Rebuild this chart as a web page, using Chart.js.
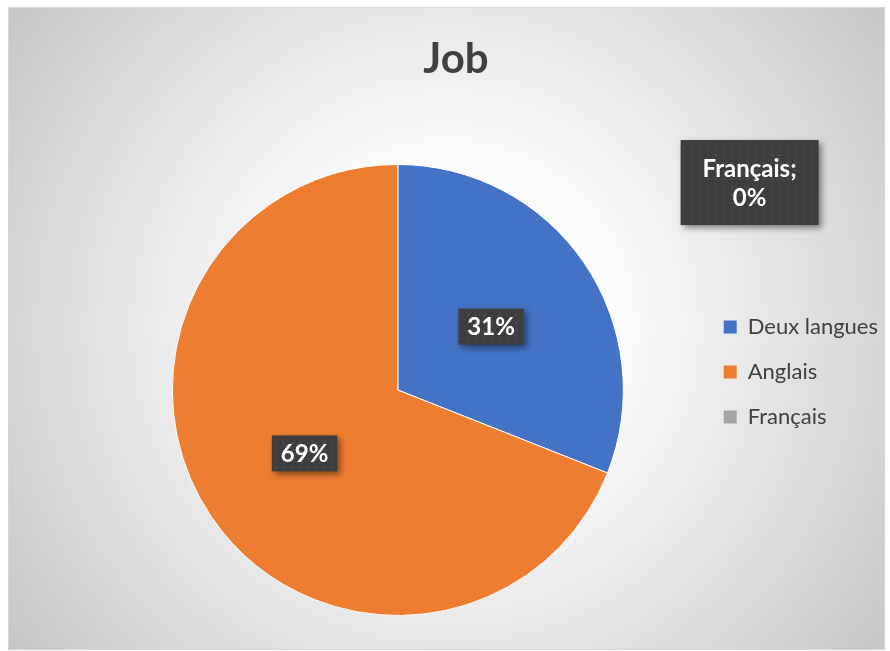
<!DOCTYPE html>
<html lang="fr">
<head>
<meta charset="UTF-8">
<title>Job</title>
<script src="https://cdn.jsdelivr.net/npm/chart.js"></script>
<style>
  html, body { margin: 0; padding: 0; background: #fff; }
  #wrap { position: absolute; left: 8px; top: 7px; width: 877px; height: 643px; }
</style>
</head>
<body>
<div id="wrap"><canvas id="jobChart" width="877" height="643"></canvas></div>
<script>
// data
const categories = ['Deux langues', 'Anglais', 'Français'];
const percents = [31, 69, 0];
const sliceColors = ['#4472C4', '#ED7D31', '#A5A5A5'];
const chartTitle = 'Job';

const FONT = 'Lato, "Open Sans", sans-serif';

// dotted dark fill for the data label boxes
function makePattern(ctx) {
    const p = document.createElement('canvas');
    p.width = 8; p.height = 8;
    const pc = p.getContext('2d');
    pc.fillStyle = '#3e3e3e';
    pc.fillRect(0, 0, 8, 8);
    pc.fillStyle = '#4c4c4c';
    pc.fillRect(3, 3, 2, 2);
    return ctx.createPattern(p, 'repeat');
}

const backgroundPlugin = {
    id: 'bg',
    beforeDraw(chart) {
        const ctx = chart.ctx;
        const w = chart.width, h = chart.height;
        ctx.save();
        const g = ctx.createRadialGradient(440, 320, 0, 440, 320, 560);
        g.addColorStop(0, '#ffffff');
        g.addColorStop(0.3, '#fbfbfb');
        g.addColorStop(1, '#c4c4c4');
        ctx.fillStyle = g;
        ctx.fillRect(0, 0, w, h);
        ctx.strokeStyle = '#d6d6d6';
        ctx.lineWidth = 1;
        ctx.strokeRect(0.5, 0.5, w - 1, h - 1);
        // title sits over the whole chart box, not over the pie
        ctx.fillStyle = '#404040';
        ctx.font = 'bold 42px ' + FONT;
        ctx.textAlign = 'center';
        ctx.textBaseline = 'middle';
        ctx.fillText(chartTitle, 448, 52);
        ctx.restore();
    }
};

const labelPlugin = {
    id: 'boxLabels',
    afterDatasetsDraw(chart) {
        const ctx = chart.ctx;
        const meta = chart.getDatasetMeta(0);
        const pattern = makePattern(ctx);
        ctx.save();
        ctx.font = 'bold 24px ' + FONT;
        ctx.textAlign = 'center';
        ctx.textBaseline = 'middle';
        meta.data.forEach((arc, i) => {
            let lines, cx, cy;
            if (percents[i] > 0) {
                const pos = arc.tooltipPosition();
                cx = pos.x; cy = pos.y;
                lines = [percents[i] + '%'];
            } else {
                // zero slice: label pushed out to the upper right
                cx = arc.x + arc.outerRadius * 1.56;
                cy = arc.y - arc.outerRadius * 0.92;
                lines = [categories[i] + ';', percents[i] + '%'];
            }
            const lh = 29;
            let tw = 0;
            lines.forEach(t => { tw = Math.max(tw, ctx.measureText(t).width); });
            const bw = lines.length > 1 ? tw + 44 : tw + 18;
            const bh = lines.length > 1 ? 85 : 36;
            ctx.save();
            ctx.shadowColor = 'rgba(0,0,0,0.45)';
            ctx.shadowBlur = 6;
            ctx.shadowOffsetX = 3;
            ctx.shadowOffsetY = 3;
            ctx.fillStyle = pattern;
            ctx.fillRect(cx - bw / 2, cy - bh / 2, bw, bh);
            ctx.restore();
            ctx.fillStyle = '#ffffff';
            const y0 = cy - (lines.length - 1) * lh / 2 + 1;
            lines.forEach((t, k) => ctx.fillText(t, cx, y0 + k * lh));
        });
        ctx.restore();
    }
};

new Chart(document.getElementById('jobChart'), {
    type: 'pie',
    data: {
        labels: categories,
        datasets: [{
            data: percents,
            backgroundColor: sliceColors,
            borderColor: '#ffffff',
            borderWidth: 1
        }]
    },
    options: {
        responsive: false,
        animation: false,
        events: [],
        layout: { padding: { left: 87, right: -3, top: 157, bottom: 34 } },
        plugins: {
            title: { display: false },
            legend: {
                position: 'right',
                align: 'start',
                title: { display: true, text: '', font: { size: 10 }, padding: { top: 117, bottom: 0 } },
                labels: {
                    boxWidth: 13,
                    boxHeight: 13,
                    padding: 23,
                    color: '#404040',
                    font: { family: FONT, size: 22 },
                    generateLabels: () => categories.map((t, i) => ({
                        text: t,
                        fillStyle: sliceColors[i],
                        strokeStyle: sliceColors[i],
                        lineWidth: 0,
                        fontColor: '#404040',
                        hidden: false,
                        index: i
                    }))
                }
            },
            tooltip: { enabled: false }
        }
    },
    plugins: [backgroundPlugin, labelPlugin]
});
</script>
</body>
</html>
